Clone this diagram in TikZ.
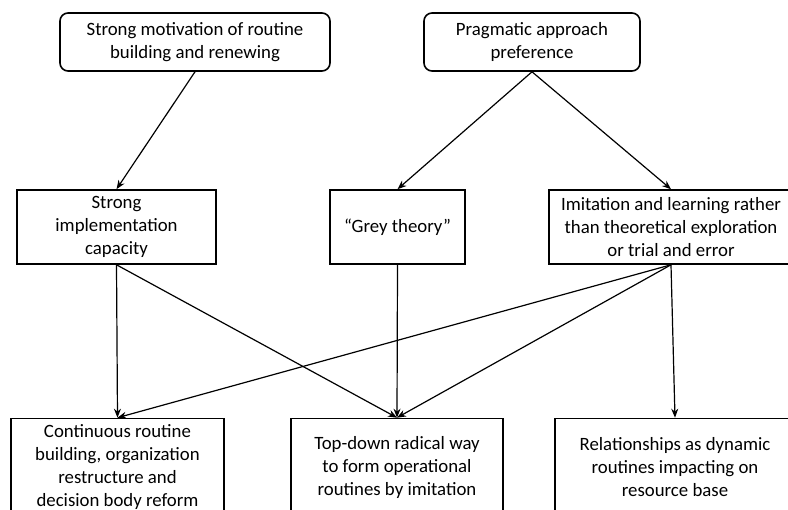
\documentclass[tikz,border=0pt]{standalone}
\usepackage{fontspec}
\setmainfont{Carlito}
\usetikzlibrary{arrows.meta}

\begin{document}
\begin{tikzpicture}[x=1pt, y=-1pt,
        box/.style={draw, line width=1.6pt, align=center, inner sep=0pt,
            font=\fontsize{18.8}{23}\selectfont},
        topbox/.style={box, rounded corners=8pt, minimum height=58pt},
        midbox/.style={box, minimum height=74pt},
        lowbox/.style={box, minimum height=97pt},
        arr/.style={-{Stealth[length=9pt,width=7pt]}, line width=1.2pt}]

            \path[use as bounding box, clip] (0,0) rectangle (788,510);

            % top row
            \node[topbox, minimum width=270pt] (motiv) at (195,42)
                {Strong motivation of routine\\building and renewing};
            \node[topbox, minimum width=216pt] (prag) at (532,42)
                {Pragmatic approach\\preference};

            % middle row
            \node[midbox, minimum width=199pt] (impl) at (116.5,227)
                {Strong\\implementation\\capacity};
            \node[midbox, minimum width=135pt] (grey) at (397.5,227)
                {``Grey theory''};
            \node[midbox, minimum width=244pt] (imit) at (671,227)
                {Imitation and learning rather\\than theoretical exploration\\or trial and error};

            % bottom row
            \node[lowbox, minimum width=213pt] (cont) at (117.5,467)
                {Continuous routine\\building, organization\\restructure and\\decision body reform};
            \node[lowbox, minimum width=212pt] (topd) at (397,467)
                {Top-down radical way\\to form operational\\routines by imitation};
            \node[lowbox, minimum width=240pt] (rel) at (675,467)
                {Relationships as dynamic\\routines impacting on\\resource base};

            % arrows
            \draw[arr] (motiv.south) -- (impl.north);
            \draw[arr] (prag.south) -- (grey.north);
            \draw[arr] (prag.south) -- (imit.north);
            \draw[arr] (impl.south) -- (cont.north);
            \draw[arr] (impl.south) -- (topd.north);
            \draw[arr] (grey.south) -- (topd.north);
            \draw[arr] (imit.south) -- (cont.north);
            \draw[arr] (imit.south) -- (topd.north);
            \draw[arr] (imit.south) -- (rel.north);

        \end{tikzpicture}
\end{document}
